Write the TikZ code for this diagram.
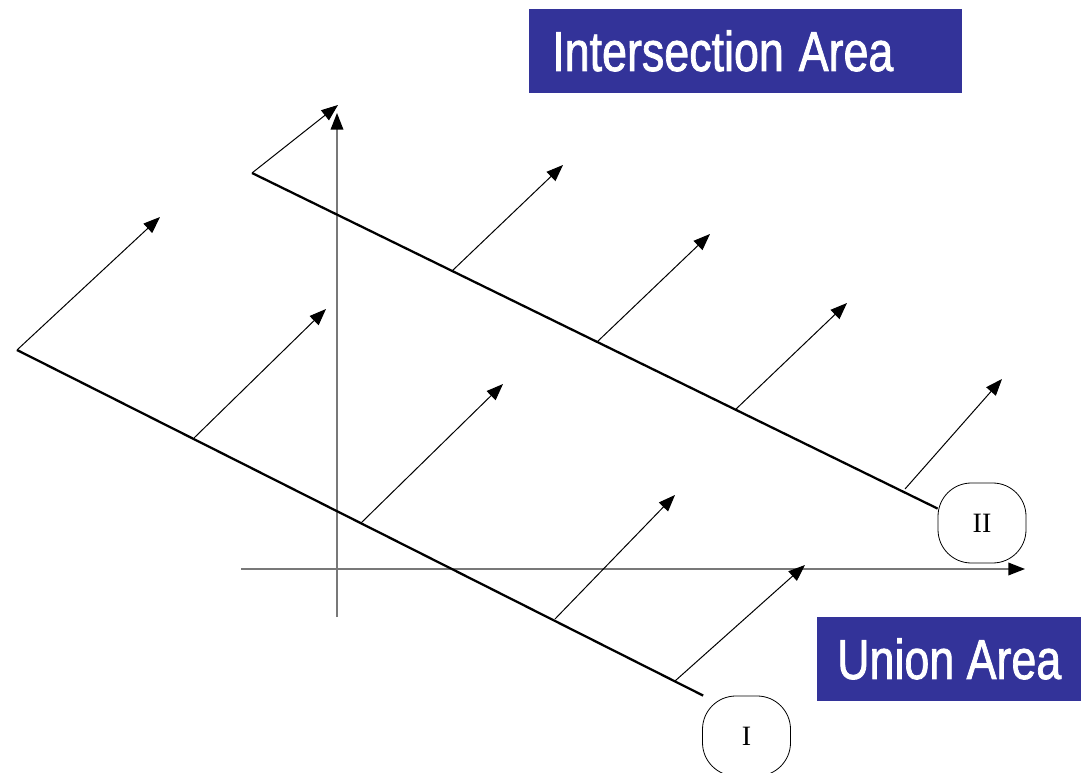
\documentclass[tikz,border=0pt]{standalone}
\usepackage{fontspec}
\usepackage{xcolor}
\usepackage{tikz}
\usetikzlibrary{arrows.meta, positioning, calc}
\newfontfamily\labelfont[FakeBold=1.6]{Liberation Sans}
\newfontfamily\romanfont{Liberation Serif}
\definecolor{areablue}{RGB}{51,51,153}
\definecolor{axisgray}{RGB}{120,120,120}

\begin{document}
\begin{tikzpicture}[
    x=0.75pt, y=-0.75pt,
    >={Triangle[length=12.5pt, width=9.5pt]},
    box_area/.style={fill=areablue, text=white, inner ysep=0pt, minimum height=62.5pt, font=\labelfont\fontsize{42}{48}\selectfont},
    box_roman/.style={draw=black, line width=0.6pt, rounded corners=25pt, minimum width=66pt, minimum height=60pt, fill=white, font=\romanfont\fontsize{21}{24}\selectfont},
    line_main/.style={line width=1.7pt, draw=black},
    arrow_thin/.style={->, line width=0.75pt, draw=black},
    axis/.style={-{Triangle[length=12.5pt, width=9.5pt, color=black]}, line width=1pt, draw=axisgray}
]
\useasboundingbox (0,0) rectangle (1081,773);
\clip (0,0) rectangle (1081,773);

% Area labels
\node[box_area, anchor=north west, inner xsep=17.25pt, text width=290.25pt, align=left] (inter) at (529,9) {\scalebox{0.8}[1]{Intersection Area}};
\node[box_area, anchor=north west, minimum width=198pt, inner xsep=0pt] (union) at (817,617) {\scalebox{0.8}[1]{Union Area}};

% Axes
\coordinate (xstart) at (241,569);
\coordinate (xend) at (1025,569);
\coordinate (ystart) at (337,617);
\coordinate (yend) at (337,113);
\draw[axis] (xstart) -- (xend);
\draw[axis] (ystart) -- (yend);

% Constraint boxes
\node[box_roman] (boxII) at (982,523) {II};
\node[box_roman] (boxI) at (746.5,736) {I};

% Lines
\coordinate (l1start) at (17,350);
\coordinate (l2start) at (252,173);
\draw[line_main] (l1start) -- (boxI.137);
\draw[line_main] (l2start) -- (boxII.162);

% Direction arrows
\foreach \tx/\ty/\hx/\hy [count=\i] in {
    17/350/160/217, 194/438/326/309, 361/523/503/384, 555/619/675/495, 675/681/805/565,
    252/173/338/105, 452/271/563/165, 597/342/710/234, 735/410/847/303, 905/489/1002/379} {
  \coordinate (tail\i) at (\tx,\ty);
  \coordinate (head\i) at (\hx,\hy);
  \draw[arrow_thin] (tail\i) -- (head\i);
}

\end{tikzpicture}
\end{document}
